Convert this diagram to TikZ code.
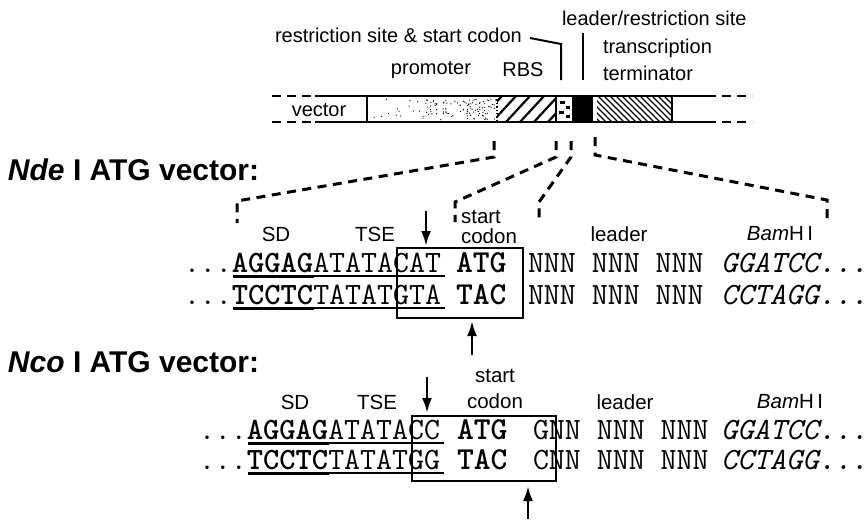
\documentclass[tikz,border=0pt]{standalone}
\usepackage{fontspec}
\setmainfont{Liberation Sans}
\usetikzlibrary{arrows.meta}
\begin{document}
\begin{tikzpicture}[x=1pt,y=-1pt,
  lab/.style={inner sep=0pt,outer sep=0pt,font=\fontsize{20.5}{22}\selectfont},
  toplab/.style={inner sep=0pt,outer sep=0pt,font=\fontsize{20}{22}\selectfont},
  seq/.style={inner sep=0pt,outer sep=0pt,anchor=base west,font=\ttfamily\fontsize{31}{33}\selectfont},
  cod/.style={inner sep=0pt,outer sep=0pt,anchor=base west,font=\ttfamily\bfseries\fontsize{32}{34}\selectfont},
  head/.style={inner sep=0pt,outer sep=0pt,anchor=west,font=\bfseries\fontsize{30}{32}\selectfont},
  fan/.style={line width=3pt,dash pattern=on 9pt off 6.5pt},
  cut/.style={line width=2.6pt,-{Latex[length=15pt,width=10pt]}},
  sbox/.style={line width=2.8pt},
  ul/.style={line width=1.5pt},
  ulb/.style={line width=3pt},
  barline/.style={line width=2.5pt},
  bardash/.style={line width=2.5pt,dash pattern=on 9pt off 6pt}
]
\useasboundingbox (0,0) rectangle (867,523);

% ---------------- top map ----------------
\node[toplab,anchor=west] (rs) at (275,35) {restriction site \& start codon};
\node[toplab,anchor=west] (lr) at (562,18) {leader/restriction site};
\node[toplab] (pro) at (431,70) {promoter};
\node[toplab] (rbs) at (523,70) {RBS};
\node[toplab,anchor=west] (tt1) at (603,48) {transcription};
\node[toplab,anchor=west] (tt2) at (603,73) {terminator};
\node[toplab] (vec) at (319,110) {vector};

\coordinate (rs1) at (530,38);
\coordinate (rs2) at (561,44);
\coordinate (rs3) at (561,80);
\draw[line width=2pt] (rs1) -- (rs2) -- (rs3);
\coordinate (lr1) at (583,33);
\coordinate (lr2) at (583,80);
\draw[line width=2pt] (lr1) -- (lr2);

% bar outline
\draw[barline] (315,96) -- (707,96);
\draw[barline] (315,122) -- (707,122);
\draw[bardash] (272,96) -- (315,96);
\draw[bardash] (272,122) -- (315,122);
\draw[bardash] (707,96) -- (752,96);
\draw[bardash] (707,122) -- (752,122);

% promoter (stipple)
\draw[line width=1.4pt] (367,96) -- (367,122);
\pgfmathsetseed{11}
\foreach \i in {1,...,120}{
  \pgfmathsetmacro\u{rnd}
  \pgfmathsetmacro\px{369+127*(\u)^(0.45)}
  \pgfmathsetmacro\py{99+21*rnd}
  \fill (\px,\py) circle (0.65);
}
% RBS hatch ///
\begin{scope}
  \clip (497,97) rectangle (555,121);
  \foreach \x in {478,492,...,562}{
    \draw[line width=2.2pt] (\x,122) -- (\x+24,96);
  }
\end{scope}
\draw[line width=1.4pt,dotted] (497,96) -- (497,122);
% small restriction block
\draw[line width=1.6pt] (556,96) -- (556,122);
\fill (560,101) rectangle (565,104);
\fill (566,106) rectangle (570,109);
\fill (559,111) rectangle (564,114);
\fill (566,115) rectangle (570,118);
% leader (black)
\fill (572,96) rectangle (593,122);
% terminator hatch \\\
\begin{scope}
  \clip (597,97) rectangle (672,121);
  \foreach \x in {568,574,...,676}{
    \draw[line width=1.4pt] (\x,96) -- (\x+26,122);
  }
\end{scope}
\draw[line width=1.8pt] (672,96) -- (672,122);

% ---------------- fan lines ----------------
\coordinate (f1a) at (494,141); \coordinate (f1b) at (494,157);
\coordinate (f1c) at (237,201); \coordinate (f1d) at (237,223);
\coordinate (f2a) at (556,141); \coordinate (f2b) at (556,157);
\coordinate (f2c) at (455,202); \coordinate (f2d) at (455,222);
\coordinate (f3a) at (571,141); \coordinate (f3b) at (571,157);
\coordinate (f3c) at (539,202); \coordinate (f3d) at (539,222);
\coordinate (f4a) at (595,137); \coordinate (f4b) at (595,155);
\coordinate (f4c) at (827,200); \coordinate (f4d) at (827,222);
\draw[fan] (f1a) -- (f1b) -- (f1c) -- (f1d);
\draw[fan] (f2a) -- (f2b) -- (f2c) -- (f2d);
\draw[fan] (f3a) -- (f3b) -- (f3c) -- (f3d);
\draw[fan] (f4a) -- (f4b) -- (f4c) -- (f4d);

% ---------------- Nde I ----------------
\node[head] (h1) at (8,170) {\textit{Nde} I ATG vector:};
\node[lab] (sd1) at (276,234) {SD};
\node[lab] (tse1) at (375,234) {TSE};
\node[lab] (st1) at (481,217) {start};
\node[lab] (co1) at (489,236) {codon};
\node[lab] (le1) at (619,234) {leader};
\node[lab] (bh1) at (780,234) {\textit{Bam}H\,I};

\node[seq] (r1a) at (184,272) {...\textbf{AGGAG}ATATACAT};
\node[cod] (r1b) at (456,272) {ATG};
\node[seq] (r1c) at (528,272) {NNN NNN NNN};
\node[seq] (r1d) at (721,272) {\textit{GGATCC...}};
\node[seq] (r2a) at (184,304) {...\textbf{TCCTC}TATATGTA};
\node[cod] (r2b) at (456,304) {TAC};
\node[seq] (r2c) at (528,304) {NNN NNN NNN};
\node[seq] (r2d) at (721,304) {\textit{CCTAGG...}};

\draw[ulb] (233,276.5) -- (314,276.5);
\draw[ul] (314,275.8) -- (445,275.8);
\draw[ulb] (233,308.5) -- (314,308.5);
\draw[ul] (314,307.8) -- (445,307.8);

\draw[sbox] (397,248) rectangle (523,318);

\coordinate (a1s) at (426,211); \coordinate (a1e) at (426,246);
\draw[cut] (a1s) -- (a1e);
\coordinate (a2s) at (472,355); \coordinate (a2e) at (472,321);
\draw[cut] (a2s) -- (a2e);

% ---------------- Nco I ----------------
\node[head] (h2) at (8,362) {\textit{Nco} I ATG vector:};
\node[lab] (st2) at (495,376) {start};
\node[lab] (co2) at (495,401) {codon};
\node[lab] (sd2) at (295,402) {SD};
\node[lab] (tse2) at (377,402) {TSE};
\node[lab] (le2) at (625,402) {leader};
\node[lab] (bh2) at (790,402) {\textit{Bam}H\,I};

\node[seq] (s1a) at (199,439) {...\textbf{AGGAG}ATATACC};
\node[cod] (s1b) at (457,439) {ATG};
\node[seq] (s1c) at (533,439) {GNN NNN NNN};
\node[seq] (s1d) at (721,439) {\textit{GGATCC...}};
\node[seq] (s2a) at (199,469) {...\textbf{TCCTC}TATATGG};
\node[cod] (s2b) at (457,469) {TAC};
\node[seq] (s2c) at (533,469) {CNN NNN NNN};
\node[seq] (s2d) at (721,469) {\textit{CCTAGG...}};

\draw[ulb] (248,443.5) -- (329,443.5);
\draw[ul] (329,442.8) -- (444,442.8);
\draw[ulb] (248,473.5) -- (329,473.5);
\draw[ul] (329,472.8) -- (444,472.8);

\draw[sbox] (412,416) rectangle (556,481);

\coordinate (a3s) at (427,377); \coordinate (a3e) at (427,413);
\draw[cut] (a3s) -- (a3e);
\coordinate (a4s) at (528,519); \coordinate (a4e) at (528,486);
\draw[cut] (a4s) -- (a4e);
\end{tikzpicture}
\end{document}
